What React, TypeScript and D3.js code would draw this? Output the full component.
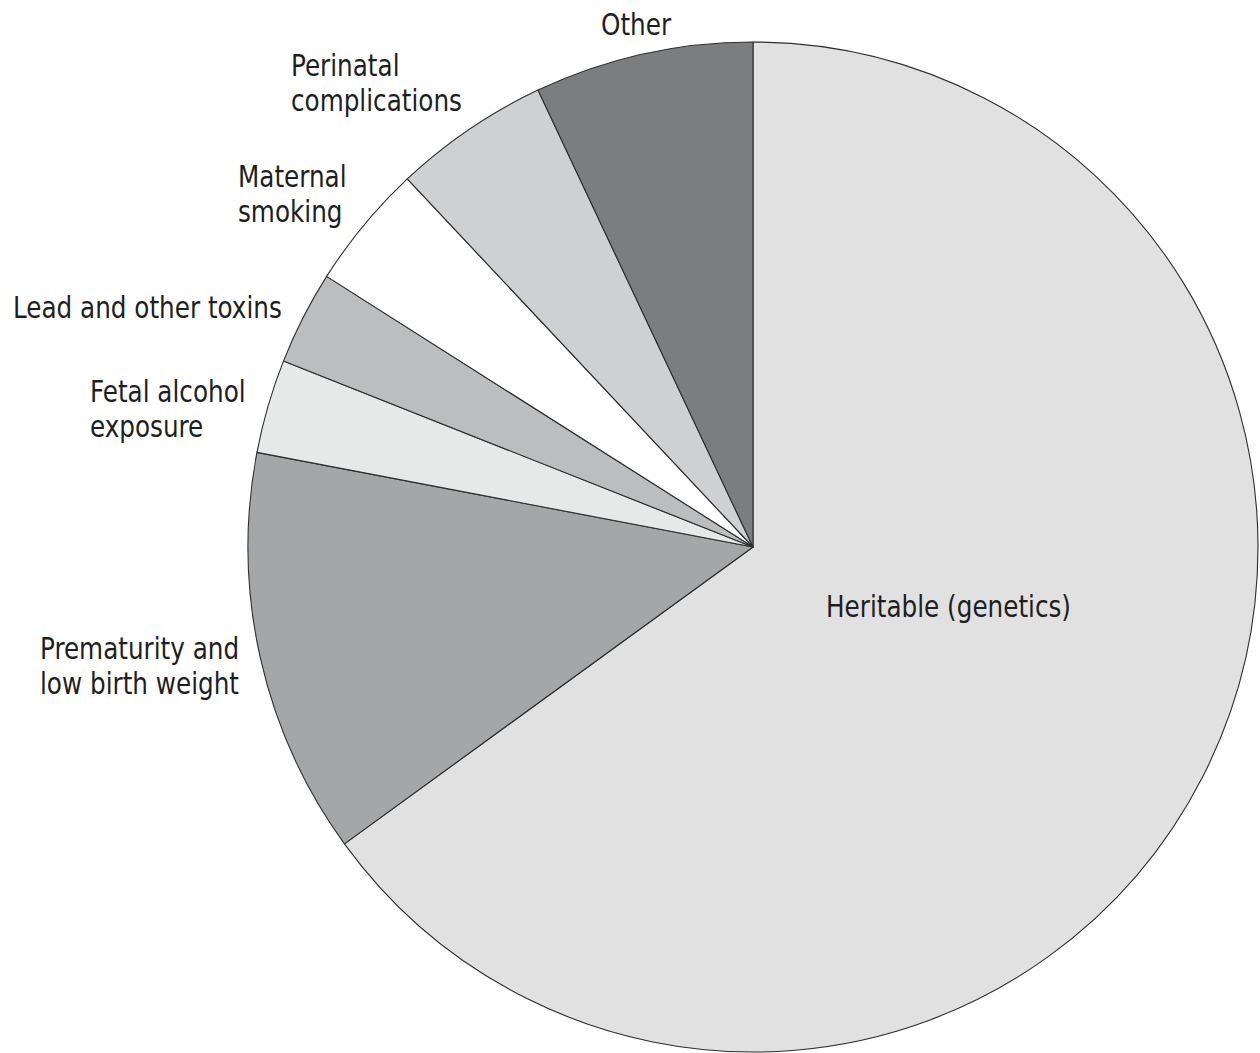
import React, { useMemo } from "react";
import * as d3 from "d3";

// Causes of ADHD, share of cases (%), clockwise from 12 o'clock
const categories = [
  "Heritable (genetics)",
  "Prematurity and low birth weight",
  "Fetal alcohol exposure",
  "Lead and other toxins",
  "Maternal smoking",
  "Perinatal complications",
  "Other",
];
const shares = [65, 13, 3, 3, 4, 5, 7];
const fills = ["#e0e1e0", "#a4a6a7", "#e7e8e8", "#bcbdbe", "#ffffff", "#cfd0d2", "#7b7d7f"];

// Label text lines per category
const labelLines: string[][] = [
  ["Heritable (genetics)"],
  ["Prematurity and", "low birth weight"],
  ["Fetal alcohol", "exposure"],
  ["Lead and other toxins"],
  ["Maternal", "smoking"],
  ["Perinatal", "complications"],
  ["Other"],
];

const WIDTH = 1260;
const HEIGHT = 1053;
const CX = 753;
const CY = 547;
const RADIUS = 505;
const FONT = "'DejaVu Sans Condensed', 'Liberation Sans Narrow', sans-serif";
const FONT_SIZE = 31;
const LINE_HEIGHT = 35;
const X_SQUEEZE = 0.885;

// Anchor (left x, first baseline y) of each label block
const labelAnchors: [number, number][] = [
  [826, 617],
  [40, 659],
  [90, 402],
  [13, 318],
  [238, 187],
  [291, 76],
  [601, 35],
];

export default function App() {
  const arcs = useMemo(() => {
    const pie = d3
      .pie<number>()
      .sort(null)
      .value((d) => d)
      .startAngle(0)
      .endAngle(2 * Math.PI);
    return pie(shares);
  }, []);

  const arcGen = d3.arc<d3.PieArcDatum<number>>().innerRadius(0).outerRadius(RADIUS);

  return (
    <svg
      width={WIDTH}
      height={HEIGHT}
      viewBox={`0 0 ${WIDTH} ${HEIGHT}`}
      style={{ position: "absolute", left: 0, top: 0, background: "#ffffff" }}
    >
      <g transform={`translate(${CX},${CY})`}>
        {arcs.map((a, i) => (
          <path
            key={categories[i]}
            d={arcGen(a) || ""}
            fill={fills[i]}
            stroke="#2e2e2e"
            strokeWidth={1.1}
            strokeLinejoin="round"
          />
        ))}
      </g>
      {labelLines.map((lines, i) => (
        <g
          key={categories[i]}
          transform={`translate(${labelAnchors[i][0]},${labelAnchors[i][1]}) scale(${X_SQUEEZE},1)`}
        >
          <text x={0} y={0} fontFamily={FONT} fontSize={FONT_SIZE} fill="#1e1e1e">
            {lines.map((line, j) => (
              <tspan key={j} x={0} dy={j === 0 ? 0 : LINE_HEIGHT}>
                {line}
              </tspan>
            ))}
          </text>
        </g>
      ))}
    </svg>
  );
}
